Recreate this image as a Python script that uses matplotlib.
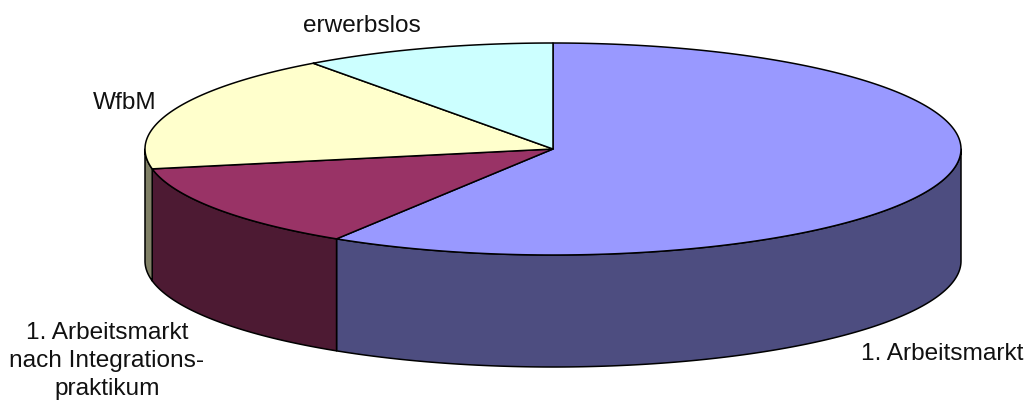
import numpy as np
import matplotlib
matplotlib.use('Agg')
import matplotlib.pyplot as plt

plt.rcParams['font.family'] = ['Liberation Sans', 'DejaVu Sans']

# Anteile, im Uhrzeigersinn ab 12 Uhr
labels = ['1. Arbeitsmarkt', '1. Arbeitsmarkt\nnach Integrations-\npraktikum', 'WfbM', 'erwerbslos']
werte = [58.9, 13.1, 18.0, 10.0]
farben_oben = ['#9999ff', '#993366', '#ffffcc', '#ccffff']
farben_seite = ['#4d4d80', '#4d1a33', '#808066', '#668080']
label_pos = [(942, 354), (107, 361), (125, 103), (362, 26)]

# Ellipse in Pixeln
cx, cy = 553, 149
rx, ry = 408, 106
tiefe = 112


def rand(t):
    return cx + rx * np.sin(t), cy - ry * np.cos(t)


fig = plt.figure(figsize=(10.29, 4.0), dpi=100)
ax = fig.add_axes([0, 0, 1, 1])
ax.set_xlim(0, 1029)
ax.set_ylim(400, 0)
ax.axis('off')

grenzen = np.radians(np.concatenate([[0], np.cumsum(werte)]) / sum(werte) * 360)

# Seitenflaechen: nur der vordere Teil (90 bis 270 Grad) ist sichtbar
for i in range(len(werte)):
    a = max(grenzen[i], np.pi / 2)
    b = min(grenzen[i + 1], 3 * np.pi / 2)
    if b <= a:
        continue
    t = np.linspace(a, b, 200)
    x, y = rand(t)
    ax.fill(np.r_[x, x[::-1]], np.r_[y, y[::-1] + tiefe], facecolor=farben_seite[i],
            edgecolor='black', linewidth=1.1, joinstyle='round', zorder=2)

# Deckel
for i in range(len(werte)):
    t = np.linspace(grenzen[i], grenzen[i + 1], 200)
    x, y = rand(t)
    ax.fill(np.r_[cx, x], np.r_[cy, y], facecolor=farben_oben[i],
            edgecolor='black', linewidth=1.1, joinstyle='round', zorder=3)

for text, (lx, ly) in zip(labels, label_pos):
    ax.text(lx, ly, text, fontsize=17.6, ha='center', va='center', color='#111111',
            linespacing=1.36, zorder=4)

fig.savefig('out.png', dpi=100)
